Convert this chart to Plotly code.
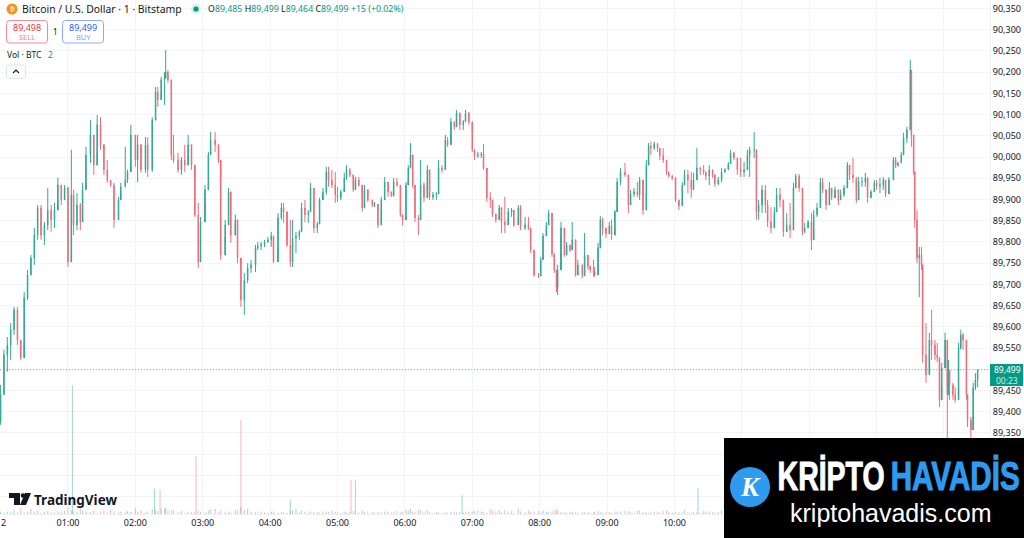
import pandas as pd
import plotly.graph_objects as go

BASE = pd.Timestamp("2025-01-12 00:00")

minutes = [
0,3,6,9,12,15,18,21,24,27,30,33,36,39,42,45,48,51,54,57,
60,63,65,68,71,73,76,80,83,86,89,92,95,98,101,105,107,111,113,116,
120,122,125,129,131,135,138,140,143,146,147,149,152,154,158,161,164,167,170,173,
176,178,182,185,187,191,194,196,200,203,205,209,211,214,217,220,223,227,229,232,
235,238,241,243,247,250,252,255,258,260,263,266,268,271,274,276,279,282,284,287,
290,292,295,298,300,303,306,308,311,314,316,319,322,324,327,331,333,336,339,342,
345,348,350,353,356,358,361,363,365,367,369,372,374,377,380,382,385,388,390,393,
396,398,401,404,406,409,412,414,417,420,422,425,428,430,433,436,438,441,444,446,
449,452,455,457,461,463,467,470,472,475,479,481,483,486,488,491,493,495,496,499,
502,504,507,509,512,514,518,520,523,525,528,529,532,534,536,539,542,544,547,549,
552,556,559,561,564,567,569,572,575,577,579,582,585,587,590,593,595,598,601,604,
607,609,612,615,617,620,623,626,628,631,634,636,639,642,645,648,650,653,656,659,
662,665,667,671,673,675,678,681,683,686,689,691,694,697,700,703,706,708,711,714,
716,719,722,724,727,730,732,735,738,740,743,746,748,751,754,756,759,762,764,767,
770,772,775,778,780,783,786,788,791,795,797,799,802,804,807,810,811,813,814,816,
818,820,821,824,827,829,832,834,836,838,841,843,844,845,848,850,853,855,857,860,
861,864,866,868,870]

highs = [
89463,89546,89576,89609,89647,89647,89569,89682,89734,89769,89833,89887,89887,89847,89927,89887,89892,89951,89934,89934,
89930,90017,89923,89915,89892,89939,90024,90087,90047,90099,90094,90017,89993,89946,89939,89906,89939,90024,89970,90076,
90052,90052,90010,90047,90047,90094,90165,90165,90189,90200,90252,90205,90182,90052,90010,90000,90029,90052,90010,89953,
89892,89859,89934,90012,90059,90059,90017,89953,89852,89927,89918,89864,89845,89750,89727,89750,89758,89793,89800,89800,
89805,89812,89824,89805,89868,89892,89892,89805,89852,89852,89824,89828,89892,89899,89875,89939,89927,89847,89904,89927,
89977,89977,89970,89965,89930,89923,89963,89981,89974,89951,89953,89953,89906,89934,89911,89899,89894,89875,89906,89953,
89939,89911,89951,89951,89930,89859,89941,89981,90033,90000,89927,89864,89993,89941,89981,89923,89918,89918,89993,89981,
90052,90047,90092,90080,90111,90104,90087,90111,90106,90059,90012,90012,90012,90031,89958,89918,89882,89864,89887,89882,
89906,89880,89880,89868,89887,89887,89859,89859,89824,89774,89727,89765,89821,89847,89875,89852,89765,89727,89746,89847,
89821,89800,89793,89847,89750,89758,89739,89821,89765,89739,89758,89741,89798,89861,89857,89828,89847,89852,89875,89951,
89974,89986,89953,89923,89927,89941,89953,89904,89993,90033,90036,90036,90033,90017,90021,89986,89965,89958,89953,89899,
89941,89970,89970,89965,89963,90021,89977,89981,89965,89981,89970,89951,89953,89974,89974,89988,90017,90012,89998,89998,
89988,90017,90024,90059,89998,89899,89934,89934,89899,89882,89882,89927,89927,89868,89868,89892,89939,89960,89960,89918,
89845,89852,89868,89875,89892,89951,89951,89906,89941,89915,89930,89918,89923,89934,89988,89970,89998,89923,89953,89953,
89963,89930,89923,89946,89946,89951,89953,89934,89953,90000,90000,89988,90012,90057,90071,90229,90198,90047,89958,89875,
89788,89788,89663,89609,89586,89640,89569,89562,89498,89515,89586,89458,89522,89482,89468,89458,89562,89593,89586,89529,
89428,89388,89468,89491,89498]

lows = [
89369,89440,89494,89522,89581,89557,89522,89557,89663,89722,89746,89805,89805,89793,89828,89824,89833,89887,89887,89899,
89741,89769,89816,89828,89828,89875,89939,89986,89958,90010,90017,89958,89939,89930,89833,89868,89915,89930,89939,89977,
89977,89941,89963,89963,89953,89965,90094,90118,90151,90123,90189,90175,89993,89986,89963,89958,89965,90000,89970,89859,
89739,89812,89892,89934,90012,90012,89986,89758,89812,89852,89798,89840,89750,89647,89628,89703,89727,89729,89781,89781,
89788,89798,89788,89750,89786,89852,89845,89788,89741,89741,89774,89805,89824,89847,89845,89875,89821,89821,89845,89906,
89911,89930,89927,89892,89894,89899,89927,89946,89953,89918,89939,89930,89871,89899,89894,89882,89882,89833,89875,89904,
89906,89906,89911,89930,89859,89838,89859,89946,90000,89927,89847,89816,89864,89894,89941,89899,89899,89899,89918,89963,
90000,90024,90052,90064,90087,90064,90064,90083,90076,90012,89993,89998,89998,89970,89894,89880,89859,89845,89864,89821,
89821,89857,89859,89835,89859,89828,89828,89828,89774,89718,89715,89722,89765,89833,89845,89765,89727,89682,89675,89816,
89765,89788,89776,89793,89718,89729,89715,89765,89734,89727,89718,89718,89741,89805,89816,89809,89821,89805,89833,89906,
89934,89953,89868,89894,89906,89906,89899,89864,89915,89993,90005,90017,90012,89993,89986,89958,89951,89946,89894,89875,
89899,89939,89915,89904,89923,89958,89958,89958,89946,89934,89951,89930,89934,89941,89963,89970,89993,89993,89958,89953,
89953,89977,89953,89998,89852,89852,89868,89868,89835,89821,89859,89875,89882,89812,89828,89809,89892,89939,89918,89816,
89821,89835,89781,89828,89859,89899,89915,89875,89899,89899,89915,89887,89899,89906,89946,89946,89939,89892,89923,89930,
89930,89892,89906,89923,89923,89915,89923,89906,89923,89946,89974,89977,89986,90021,90033,90071,90024,89958,89833,89750,
89670,89734,89515,89468,89546,89522,89522,89517,89411,89458,89522,89322,89491,89428,89428,89421,89458,89546,89546,89428,
89364,89322,89388,89451,89458]

closes = [
89440,89534,89557,89593,89640,89569,89527,89668,89722,89762,89816,89880,89816,89840,89875,89852,89875,89934,89899,89927,
89753,89911,89840,89887,89847,89923,90005,90052,89981,90076,90029,89970,89946,89934,89852,89899,89930,89946,89965,90052,
89993,90029,89970,90029,89970,90087,90153,90135,90182,90186,90200,90182,90005,89993,89970,89993,89981,90029,89981,89864,
89753,89847,89923,90005,90040,90029,89993,89769,89840,89918,89816,89852,89762,89663,89710,89739,89746,89786,89791,89795,
89800,89805,89814,89753,89857,89880,89871,89793,89753,89809,89814,89824,89880,89864,89871,89927,89833,89842,89899,89918,
89965,89946,89934,89911,89904,89918,89951,89970,89958,89923,89946,89934,89880,89923,89899,89887,89889,89840,89899,89941,
89918,89908,89941,89934,89864,89852,89934,89974,90005,89934,89857,89852,89934,89904,89970,89906,89911,89913,89974,89970,
90040,90029,90083,90071,90104,90076,90083,90104,90083,90017,90003,90005,90007,89974,89904,89899,89866,89852,89880,89847,
89840,89871,89875,89840,89880,89833,89840,89833,89781,89722,89720,89758,89814,89840,89868,89772,89734,89692,89734,89833,
89769,89793,89781,89805,89722,89746,89720,89769,89743,89734,89729,89722,89786,89852,89833,89819,89838,89816,89871,89941,
89965,89958,89887,89913,89918,89911,89946,89875,89981,90026,90021,90031,90021,90003,89993,89965,89955,89951,89899,89885,
89934,89958,89946,89923,89946,89974,89970,89965,89955,89970,89958,89937,89946,89965,89970,89984,90010,89998,89970,89965,
89970,90005,90017,90017,89871,89887,89923,89887,89847,89833,89871,89911,89899,89824,89840,89828,89927,89955,89927,89824,
89833,89847,89805,89864,89880,89941,89923,89887,89927,89904,89923,89899,89911,89927,89981,89958,89951,89899,89941,89941,
89951,89904,89918,89939,89932,89934,89946,89913,89946,89993,89981,89986,90005,90045,90064,90205,90052,89965,89852,89762,
89769,89746,89534,89487,89569,89557,89534,89527,89428,89503,89569,89440,89498,89463,89440,89428,89550,89581,89569,89440,
89381,89357,89456,89475,89499]

first_open = 89375
opens = [first_open] + closes[:-1]

volumes = [
.5,.3,.6,.4,1.0,.4,1.4,.3,.5,1.2,.4,.8,.3,.5,.7,.4,.3,.6,.5,.8,
1.6,.9,.6,.5,1.2,.8,.6,.4,.7,.3,.5,.8,.4,1.0,.6,.3,.5,.4,.7,.5,
1.4,.5,.9,.4,.6,1.1,1.0,.7,1.2,1.3,1.5,.8,1.0,.9,.4,.7,.3,.6,.5,.4,
.8,.5,.4,.9,1.1,1.2,.4,.8,.5,.6,.3,.8,1.0,1.6,1.0,1.3,.5,.4,.3,.6,
.4,.3,.5,.6,.3,.5,.4,.3,.7,.9,1.2,.4,.9,.5,.3,.6,.5,.4,.3,.6,
.4,.5,.8,.5,.4,.3,.6,.4,.5,.7,.3,.4,.8,.5,.6,.4,.3,.5,.4,.6,
.5,.3,.4,.7,.4,.5,1.0,.8,1.2,.6,.4,1.0,.9,.6,.8,.4,.3,.5,.4,.3,
.4,.3,.5,.6,.4,.5,.3,.4,.6,.5,.7,.9,.6,.5,.3,1.1,.8,.6,.9,.4,
1.0,.5,.7,.3,1.2,.6,.4,.9,.5,.6,.7,.3,.8,.5,.4,.6,.9,1.1,.8,.5,
.4,.3,.6,.5,.4,.3,.5,.4,.6,.3,.4,.5,.7,.4,.3,.5,.4,.3,.6,.5,
.6,.8,.7,.4,.3,.7,.8,.5,.4,.3,.5,.6,.5,.4,.7,.8,.6,.3,.5,.4,
.3,.9,.4,.3,.5,.4,.3,.7,.6,.5,.4,.3,.6,.8,.4,.5,.6,.4,.3,.5,
.4,.7,.9,1.0,1.1,.6,.8,.5,.6,.7,.4,.5,.6,.8,.5,.6,.7,.5,.4,.9,
.5,.6,1.0,.5,.6,.7,.5,.4,.6,.5,.4,.5,.6,.4,.7,.5,.6,.8,.5,.4,
.5,.6,.4,.5,.4,.5,.4,.6,.5,.7,.4,.5,.6,.9,.8,2.5,1.8,1.2,1.5,1.8,
1.4,1.2,1.6,1.3,1.2,.9,.8,.7,1.1,.9,.8,1.0,.8,.7,.9,.7,.8,.6,.5,.9,
.8,.9,.7,.6,.5]

spike_minutes = [64, 137, 142, 174, 214, 258, 312, 316, 411, 621]
spike_volumes = [30.0, 6.0, 5.6, 13.5, 22.0, 3.3, 8.0, 8.0, 4.4, 6.0]
spike_up = [True, True, False, False, False, True, False, False, True, True]

price_ticks = [89200 + 50 * i for i in range(24)]
hour_ticks = list(range(0, 15))
last_price = 89499

UP, DOWN = "#2fa994", "#f06a78"
VUP, VDOWN = "rgba(8,153,129,0.35)", "rgba(242,54,69,0.33)"
FONT = "Noto Sans"
W, H, ML, MR, MT, MB = 1024, 538, 0, 34, 0, 24
PW, PH = W - ML - MR, H - MT - MB


def px(x):
    return (x - ML) / PW


def py(y):
    return 1 - (y - MT) / PH


def at(m):
    return BASE + pd.Timedelta(minutes=m)


times = [at(m) for m in minutes]
fig = go.Figure()
fig.add_bar(x=times, y=volumes, yaxis="y2", width=60000, hoverinfo="skip",
            marker=dict(line_width=0, color=[VUP if c >= o else VDOWN for o, c in zip(opens, closes)]))
fig.add_bar(x=[at(m) for m in spike_minutes], y=spike_volumes, yaxis="y2", width=60000, hoverinfo="skip",
            marker=dict(line_width=0, color=[VUP if u else VDOWN for u in spike_up]))
fig.add_candlestick(x=times, open=opens, high=highs, low=lows, close=closes, whiskerwidth=0,
                    increasing=dict(line=dict(color=UP, width=1), fillcolor=UP),
                    decreasing=dict(line=dict(color=DOWN, width=1), fillcolor=DOWN))

shapes, ann = [], []


def rect(x0, y0, x1, y1, fill=None, line=None, lw=1):
    shapes.append(dict(type="rect", xref="paper", yref="paper", layer="above",
                       x0=px(x0), x1=px(x1), y0=py(y0), y1=py(y1), fillcolor=fill or "rgba(0,0,0,0)",
                       line=dict(color=line or "rgba(0,0,0,0)", width=lw if line else 0)))


def rounded(x0, y0, x1, y1, r, fill, line):
    P = lambda a, b: f"{px(a):.5f},{py(b):.5f}"
    path = (f"M{P(x0 + r, y0)}L{P(x1 - r, y0)}Q{P(x1, y0)} {P(x1, y0 + r)}L{P(x1, y1 - r)}Q{P(x1, y1)} {P(x1 - r, y1)}"
            f"L{P(x0 + r, y1)}Q{P(x0, y1)} {P(x0, y1 - r)}L{P(x0, y0 + r)}Q{P(x0, y0)} {P(x0 + r, y0)}Z")
    shapes.append(dict(type="path", xref="paper", yref="paper", layer="above", path=path,
                       fillcolor=fill, line=dict(color=line, width=1)))


def circle(cx, cy, r, fill):
    shapes.append(dict(type="circle", xref="paper", yref="paper", layer="above",
                       x0=px(cx - r), x1=px(cx + r), y0=py(cy - r), y1=py(cy + r), fillcolor=fill, line_width=0))


def poly(points, fill=None, line=None, lw=1):
    path = "M" + "L".join(f"{px(a):.5f},{py(b):.5f}" for a, b in points) + ("Z" if fill else "")
    shapes.append(dict(type="path", xref="paper", yref="paper", layer="above", path=path,
                       fillcolor=fill or "rgba(0,0,0,0)", line=dict(color=line or "rgba(0,0,0,0)", width=lw if line else 0)))


def text(x, y, s, size=10, color="#131722", anchor="left", family=FONT):
    ann.append(dict(xref="paper", yref="paper", x=px(x), y=py(y), text=s, showarrow=False, xanchor=anchor,
                    yanchor="middle", font=dict(size=size, color=color, family=family), borderpad=0, borderwidth=0))


# current price line and tag
shapes.append(dict(type="line", xref="paper", yref="y", x0=0, x1=1, y0=last_price, y1=last_price,
                   line=dict(color="rgba(8,153,129,0.6)", width=1, dash="1px,2px")))
rect(990, 364, 1023, 386, fill="#089981")
text(1007, 369.5, "89,499", 8.5, "#ffffff", "center")
text(1007, 380.5, "00:23", 8.5, "#cdeee7", "center")

# header
circle(12, 9, 5.5, "#f7931a")
text(12, 9, "₿", 7, "#ffffff", "center", "DejaVu Sans")
text(22, 9, "Bitcoin / U.S. Dollar · 1 · Bitstamp", 10.4, "#131722")
circle(196, 9, 5, "#d8efea")
circle(196, 9, 2.6, "#089981")
G = "#089981"
ohlc = (f"O<span style='color:{G}'>89,485</span> H<span style='color:{G}'>89,499</span> "
        f"L<span style='color:{G}'>89,464</span> C<span style='color:{G}'>89,499</span> "
        f"<span style='color:{G}'>+15 (+0.02%)</span>")
text(208, 9, ohlc, 8.8, "#131722")

# order buttons
rounded(6.5, 20.5, 47.5, 43, 3, "#ffffff", "#f08a94")
rounded(62.5, 20.5, 103.5, 43, 3, "#ffffff", "#8ea8ff")
text(27, 27, "89,498", 9, "#f23645", "center")
text(27, 37, "SELL", 7.5, "#f77c80", "center")
text(83, 27, "89,499", 9, "#2962ff", "center")
text(83, 37, "BUY", 7.5, "#7f9dff", "center")
text(55, 31, "1", 8, "#131722", "center")

# volume legend
text(7, 55, "Vol · BTC", 8.5, "#131722")
text(48, 55, "2", 8.5, "#089981")
rounded(6.5, 65, 25.5, 78.5, 2, "#ffffff", "#e0e3eb")
poly([(13, 73), (16, 70), (19, 73)], line="#131722", lw=1.2)

# TradingView mark
poly([(9, 493), (20, 493), (20, 505), (14, 505), (14, 498), (9, 498)], fill="#131722")
circle(23, 495.5, 2.3, "#131722")
poly([(25, 493), (31, 493), (26, 505), (20, 505)], fill="#131722")
text(34, 500, "<b>TradingView</b>", 13.5, "#131722")

# truncated session date
text(3, 522, "2", 9, "#131722", "center")

# site badge
rect(724, 438, 1024, 538, fill="#000000")
circle(750, 487, 20, "#2f9bf0")
text(750, 487, "<b><i>K</i></b>", 27, "#ffffff", "center", "Liberation Serif")
text(830.5, 476, "<b>KRİPTO</b>", 41, "#ffffff", "center", "Liberation Sans")
text(954.5, 476, "<b>HAVADİS</b>", 41, "#2f9bf0", "center", "Liberation Sans")
text(890, 513, "kriptohavadis.com", 25, "#ffffff", "center", "Liberation Sans")

fig.update_layout(
    width=W, height=H, margin=dict(l=ML, r=MR, t=MT, b=MB), paper_bgcolor="#ffffff", plot_bgcolor="#ffffff",
    showlegend=False, barmode="overlay", boxgap=0.3, dragmode=False, shapes=shapes, annotations=ann,
    font=dict(family=FONT, size=9, color="#131722"),
    xaxis=dict(type="date", rangeslider=dict(visible=False),
               range=[at(-0.53), at(881)], tickvals=[at(60 * h) for h in hour_ticks],
               ticktext=[f"{h:02d}:00" if 1 <= h <= 10 else "" for h in hour_ticks], tickangle=0,
               showgrid=True, gridcolor="#f3f4f6", gridwidth=1, ticks="", tickfont=dict(size=9),
               showline=True, linecolor="#eef0f3", zeroline=False),
    yaxis=dict(side="right", range=[89159, 90370], tickvals=price_ticks,
               ticktext=["" if p == 89500 or p < 89350 else f"{p:,}" for p in price_ticks],
               showgrid=True, gridcolor="#f3f4f6", gridwidth=1, ticks="", tickfont=dict(size=9),
               showline=True, linecolor="#eef0f3", zeroline=False),
    yaxis2=dict(overlaying="y", range=[0, 120], visible=False, showgrid=False),
)

squeeze = """
document.body.style.margin='0';
var widths={'KRİPTO':107,'HAVADİS':129};
document.querySelectorAll('.annotation-text').forEach(function(t){
  var w=widths[t.textContent];
  if(w){t.setAttribute('textLength',w);t.setAttribute('lengthAdjust','spacingAndGlyphs');
    t.style.stroke=t.style.fill;t.style.strokeWidth='1px';}
});
"""
fig.write_html("out.html", post_script=squeeze, config=dict(displayModeBar=False))
